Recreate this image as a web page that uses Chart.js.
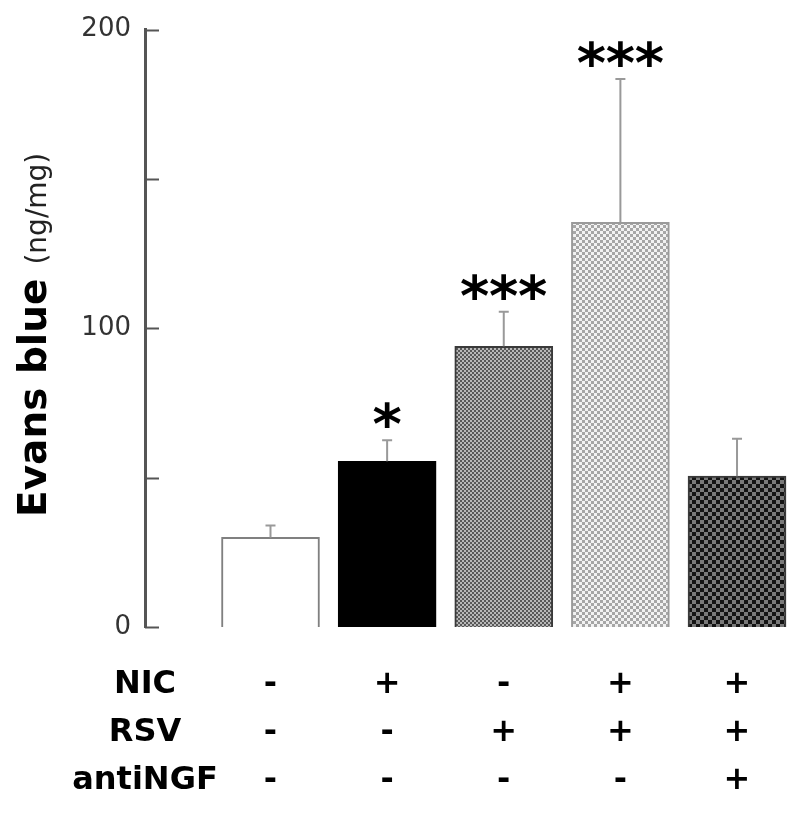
<!DOCTYPE html>
<html>
<head>
<meta charset="utf-8">
<script src="https://cdn.jsdelivr.net/npm/chart.js@4.4.0/dist/chart.umd.min.js"></script>
<style>
  html, body { margin: 0; padding: 0; background: #fff; }
  #wrap { width: 800px; height: 813px; position: relative; }
</style>
</head>
<body>
<div id="wrap"><canvas id="evansChart"></canvas></div>
<script>
// --- dados ---
const groups = ['Controle', 'NIC', 'RSV', 'NIC+RSV', 'NIC+RSV+antiNGF'];
const means = [30, 55.5, 94, 135.5, 50.5];
const sems = [4, 7, 11.5, 48, 12.5];
const stars = ['', '*', '***', '***', ''];
const rowNames = ['NIC', 'RSV', 'antiNGF'];
const nicRow = ['-', '+', '-', '+', '+'];
const rsvRow = ['-', '-', '+', '+', '+'];
const antiNgfRow = ['-', '-', '-', '-', '+'];
const yTickValues = [0, 50, 100, 150, 200];
const yLabelValues = [0, 100, 200];

const X_MIN = -0.076;
const X_MAX = 5.54;
const FONT = "'DejaVu Sans', Verdana, sans-serif";

// padrões xadrez das barras
function checker(cell, c1, c2) {
    const c = document.createElement('canvas');
    c.width = cell * 2; c.height = cell * 2;
    const g = c.getContext('2d');
    g.fillStyle = c1; g.fillRect(0, 0, cell * 2, cell * 2);
    g.fillStyle = c2;
    g.fillRect(0, 0, cell, cell);
    g.fillRect(cell, cell, cell, cell);
    return document.getElementById('evansChart').getContext('2d').createPattern(c, 'repeat');
}

const fills = [
    '#ffffff',
    '#000000',
    checker(2, '#b8b8b8', '#585858'),
    checker(3, '#f2f2f2', '#a6a6a6'),
    checker(4, '#7a7a7a', '#141414')
];
const borders = ['#808080', '#000000', '#3a3a3a', '#9a9a9a', '#3a3a3a'];

// barras de erro + asteriscos
const errorBars = {
    id: 'errorBars',
    afterDatasetsDraw(chart) {
        const ctx = chart.ctx;
        const y = chart.scales.y;
        const meta = chart.getDatasetMeta(0);
        meta.data.forEach((bar, i) => {
            const top = y.getPixelForValue(means[i] + sems[i]);
            ctx.save();
            ctx.strokeStyle = '#999';
            ctx.lineWidth = 2;
            ctx.beginPath();
            ctx.moveTo(bar.x, bar.y);
            ctx.lineTo(bar.x, top);
            ctx.moveTo(bar.x - 5, top);
            ctx.lineTo(bar.x + 5, top);
            ctx.stroke();

            if (stars[i]) {
                ctx.fillStyle = '#000';
                ctx.font = 'bold 56px ' + FONT;
                ctx.textAlign = 'center';
                ctx.textBaseline = 'alphabetic';
                const n = stars[i].length;
                const step = 29;
                for (let k = 0; k < n; k++) {
                    const sx = bar.x + (k - (n - 1) / 2) * step;
                    ctx.fillText('*', sx, top - 28 + 31);
                }
            }
            ctx.restore();
        });
    }
};

// marcas do eixo y para dentro + título do eixo
const axisExtras = {
    id: 'axisExtras',
    afterDraw(chart) {
        const ctx = chart.ctx;
        const y = chart.scales.y;
        const left = chart.chartArea.left;
        ctx.save();
        ctx.strokeStyle = '#555';
        ctx.lineWidth = 2;
        yTickValues.forEach(v => {
            const py = Math.round(y.getPixelForValue(v)) + 0.5;
            ctx.beginPath();
            ctx.moveTo(left, py);
            ctx.lineTo(left + 14, py);
            ctx.stroke();
        });

        // título: "Evans blue" em negrito + "(ng/mg)" normal
        ctx.translate(46, 517);
        ctx.rotate(-Math.PI / 2);
        ctx.fillStyle = '#000';
        ctx.textAlign = 'left';
        ctx.textBaseline = 'alphabetic';
        ctx.font = 'bold 39px ' + FONT;
        ctx.fillText('Evans blue', 0, 0);
        const w = ctx.measureText('Evans blue').width;
        ctx.font = '28px ' + FONT;
        ctx.fillStyle = '#222';
        ctx.fillText('(ng/mg)', w + 14, 0);
        ctx.restore();
    }
};

const ctx = document.getElementById('evansChart').getContext('2d');

new Chart(ctx, {
    type: 'bar',
    data: {
        datasets: [{
            label: 'Evans blue',
            data: groups.map((g, i) => ({ x: i + 1, y: means[i] })),
            backgroundColor: fills,
            borderColor: borders,
            borderWidth: 2,
            borderSkipped: 'bottom',
            barThickness: 98
        }]
    },
    options: {
        responsive: true,
        maintainAspectRatio: false,
        animation: false,
        layout: { padding: { top: 20, right: 0, left: 0, bottom: 0 } },
        plugins: {
            legend: { display: false },
            tooltip: { enabled: false }
        },
        scales: {
            x: {
                type: 'linear',
                min: X_MIN,
                max: X_MAX,
                offset: false,
                grid: { display: false, drawTicks: false, offset: false },
                border: { display: false },
                afterBuildTicks: scale => {
                    scale.ticks = [X_MIN].concat(groups.map((g, i) => i + 1)).map(v => ({ value: v }));
                },
                afterFit: scale => { scale.height = 186; },
                ticks: {
                    autoSkip: false,
                    maxRotation: 0,
                    padding: 34,
                    color: '#000',
                    font: { family: FONT, weight: 'bold', size: 32, lineHeight: 1.5 },
                    callback: function (value) {
                        if (value === X_MIN) return rowNames;
                        const i = Math.round(value) - 1;
                        return [nicRow[i], rsvRow[i], antiNgfRow[i]];
                    }
                }
            },
            y: {
                min: 0,
                max: 200,
                grid: { display: false, drawTicks: false },
                border: { display: true, color: '#555', width: 3 },
                afterFit: scale => { scale.width = 145; },
                afterBuildTicks: scale => {
                    scale.ticks = yTickValues.map(v => ({ value: v }));
                },
                ticks: {
                    padding: 14,
                    color: '#333',
                    font: { family: FONT, size: 26 },
                    callback: v => yLabelValues.includes(v) ? String(v) : ''
                }
            }
        }
    },
    plugins: [errorBars, axisExtras]
});
</script>
</body>
</html>
